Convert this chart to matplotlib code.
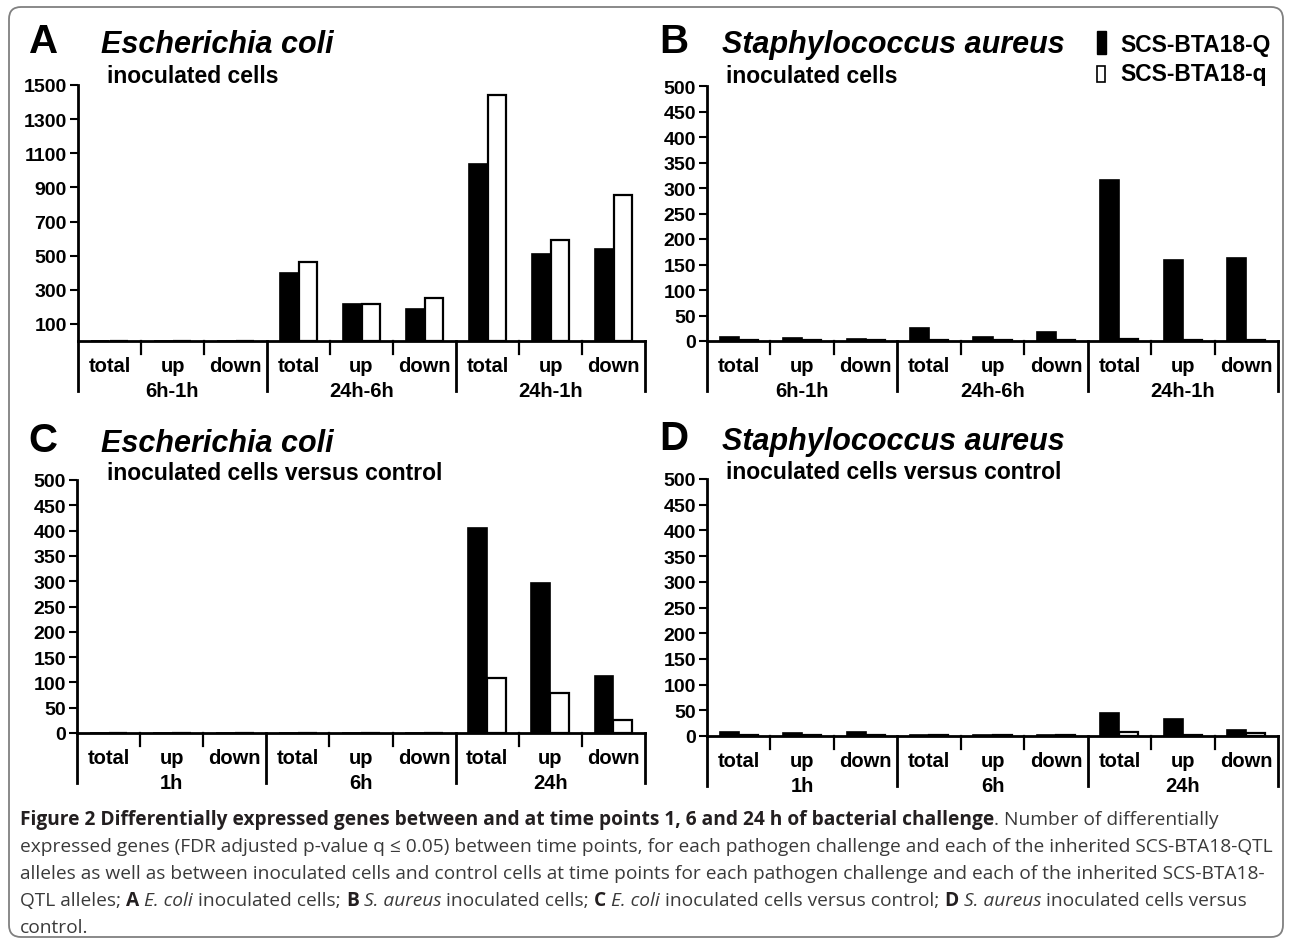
import matplotlib
matplotlib.use("Agg")
import matplotlib.pyplot as plt
import matplotlib.transforms as mtransforms
from matplotlib.patches import Rectangle, FancyBboxPatch

W, H = 1290, 945

# data
categories = ["total", "up", "down"] * 3
groups_ab = ["6h-1h", "24h-6h", "24h-1h"]
groups_cd = ["1h", "6h", "24h"]

A_Q = [0, 0, 0, 400, 215, 185, 1040, 510, 540]
A_q = [0, 0, 0, 465, 215, 253, 1440, 590, 855]
B_Q = [8, 6, 4, 25, 8, 18, 315, 158, 162]
B_q = [1, 1, 1, 1, 1, 1, 4, 1, 1]
C_Q = [0, 0, 0, 0, 0, 0, 405, 297, 112]
C_q = [0, 0, 0, 0, 0, 0, 108, 80, 26]
D_Q = [8, 5, 7, 2, 1, 2, 44, 33, 12]
D_q = [2, 2, 1, 2, 1, 1, 7, 2, 5]

A_ticks = [100, 300, 500, 700, 900, 1100, 1300, 1500]
small_ticks = [0, 50, 100, 150, 200, 250, 300, 350, 400, 450, 500]

LAB = "Liberation Sans"
CAP_FONT = "Open Sans"

fig = plt.figure(figsize=(W / 100, H / 100), dpi=100)

# rounded frame around the whole figure
frame = FancyBboxPatch((9, 7), 1274, 930, boxstyle="round,pad=0,rounding_size=12",
                       transform=mtransforms.IdentityTransform(), ec="#808080", fc="none", lw=1.3)
fig.patches.append(frame)


def fx(x):
    return x / W


def fy(y):
    return 1 - y / H


def panel(left, right, top, base, ymax, ticks, q_vals, Q_vals, groups):
    ax = fig.add_axes([fx(left), fy(base), (right - left) / W, (base - top) / H])
    xs = [i + 0.5 for i in range(9)]
    ax.bar([x - 0.15 for x in xs], Q_vals, width=0.3, color="black", edgecolor="black", lw=1.2)
    ax.bar([x + 0.15 for x in xs], q_vals, width=0.3, color="white", edgecolor="black", lw=1.6)
    ax.set_xlim(0, 9)
    ax.set_ylim(0, ymax)
    ax.set_yticks(ticks)
    ax.set_yticklabels([str(t) for t in ticks], fontfamily=LAB, fontweight="bold", fontsize=14)
    ax.tick_params(axis="y", direction="out", length=6, width=1.5, pad=2)
    ax.set_xticks([])
    for s in ["top", "right"]:
        ax.spines[s].set_visible(False)
    ax.spines["left"].set_linewidth(2)
    ax.spines["bottom"].set_linewidth(2)
    ax.patch.set_alpha(0)
    tr = mtransforms.blended_transform_factory(ax.transData, fig.transFigure)
    for i in range(10):
        if i % 3 == 0:
            ax.plot([i, i], [fy(base), fy(base + 50)], color="black", lw=2, transform=tr, clip_on=False)
        else:
            ax.plot([i, i], [fy(base), fy(base + 13)], color="black", lw=1.6, transform=tr, clip_on=False)
    for i, c in enumerate(categories):
        ax.text(xs[i], fy(base + 30), c, transform=tr, ha="center", va="baseline",
                fontfamily=LAB, fontweight="bold", fontsize=14.5)
    for g, lab in enumerate(groups):
        ax.text(3 * g + 1.5, fy(base + 55), lab, transform=tr, ha="center", va="baseline",
                fontfamily=LAB, fontweight="bold", fontsize=14.5)
    return ax


def titles(letter, lx, species, sx, sub, subx, base1, base2):
    fig.text(fx(lx), fy(base1), letter, fontfamily=LAB, fontweight="bold",
             fontsize=29, va="baseline")
    fig.text(fx(sx), fy(base1), species, fontfamily=LAB, fontweight="bold", fontstyle="italic",
             fontsize=22, va="baseline")
    fig.text(fx(subx), fy(base2), sub, fontfamily=LAB, fontweight="bold",
             fontsize=16.5, va="baseline")


panel(78, 645, 86, 342, 1500, A_ticks, A_q, A_Q, groups_ab)
panel(707, 1278, 87, 342, 500, small_ticks, B_q, B_Q, groups_ab)
panel(77, 645, 481, 734, 500, small_ticks, C_q, C_Q, groups_cd)
panel(707, 1278, 480, 737, 500, small_ticks, D_q, D_Q, groups_cd)

titles("A", 29, "Escherichia coli", 101, "inoculated cells", 107, 53, 83)
titles("B", 659, "Staphylococcus aureus", 722, "inoculated cells", 726, 53, 83)
titles("C", 28, "Escherichia coli", 101, "inoculated cells versus control", 107, 452, 480)
titles("D", 659, "Staphylococcus aureus", 722, "inoculated cells versus control", 726, 450, 479)

# legend of panel B
fig.patches.append(Rectangle((fx(1097), fy(55)), 9 / W, 23 / H, transform=fig.transFigure,
                             fc="black", ec="black", lw=1))
fig.patches.append(Rectangle((fx(1097), fy(83)), 8 / W, 16 / H, transform=fig.transFigure,
                             fc="white", ec="black", lw=1.2))
fig.text(fx(1120), fy(52), "SCS-BTA18-Q", fontfamily=LAB, fontweight="bold", fontsize=16.5, va="baseline")
fig.text(fx(1120), fy(81), "SCS-BTA18-q", fontfamily=LAB, fontweight="bold", fontsize=16.5, va="baseline")

# caption with mixed styles
caption = [
    [("Figure 2 Differentially expressed genes between and at time points 1, 6 and 24 h of bacterial challenge", "b"),
     (". Number of differentially", "r")],
    [("expressed genes (FDR adjusted p-value q \u2264 0.05) between time points, for each pathogen challenge and each of the inherited SCS-BTA18-QTL", "r")],
    [("alleles as well as between inoculated cells and control cells at time points for each pathogen challenge and each of the inherited SCS-BTA18-", "r")],
    [("QTL alleles;", "r"), ("A", "b"), ("E. coli", "i"), ("inoculated cells;", "r"), ("B", "b"),
     ("S. aureus", "i"), ("inoculated cells;", "r"), ("C", "b"), ("E. coli", "i"),
     ("inoculated cells versus control;", "r"), ("D", "b"), ("S. aureus", "i"),
     ("inoculated cells versus", "r")],
    [("control.", "r")],
]
cap_y = [825, 852, 879, 906, 933]
renderer = fig.canvas.get_renderer()


def style_kw(st, size):
    kw = dict(fontfamily=CAP_FONT, fontsize=size, va="baseline", ha="left")
    if st == "b":
        kw.update(fontweight="bold", color="#231f20")
    elif st == "i":
        kw.update(fontstyle="italic", color="#3a3a3a")
    else:
        kw.update(color="#3a3a3a")
    return kw


def draw_line(runs, x0, y, size, draw=True):
    x = x0
    arts = []
    for k, (txt, st) in enumerate(runs):
        if k > 0 and not txt.startswith("."):
            sp = fig.text(0, 0, "x x", **style_kw(st, size))
            sp2 = fig.text(0, 0, "xx", **style_kw(st, size))
            x += sp.get_window_extent(renderer).width - sp2.get_window_extent(renderer).width
            sp.remove()
            sp2.remove()
        t = fig.text(fx(x), fy(y), txt, **style_kw(st, size))
        x += t.get_window_extent(renderer).width
        arts.append(t)
    if not draw:
        for t in arts:
            t.remove()
    return x - x0


# fit the widest line (line 2) to the caption width
w0 = draw_line(caption[1], 20, cap_y[1], 12, draw=False)
cap_size = 12 * 1250 / w0
for runs, y in zip(caption, cap_y):
    draw_line(runs, 20, y, cap_size)

fig.savefig("out.png", dpi=100)
